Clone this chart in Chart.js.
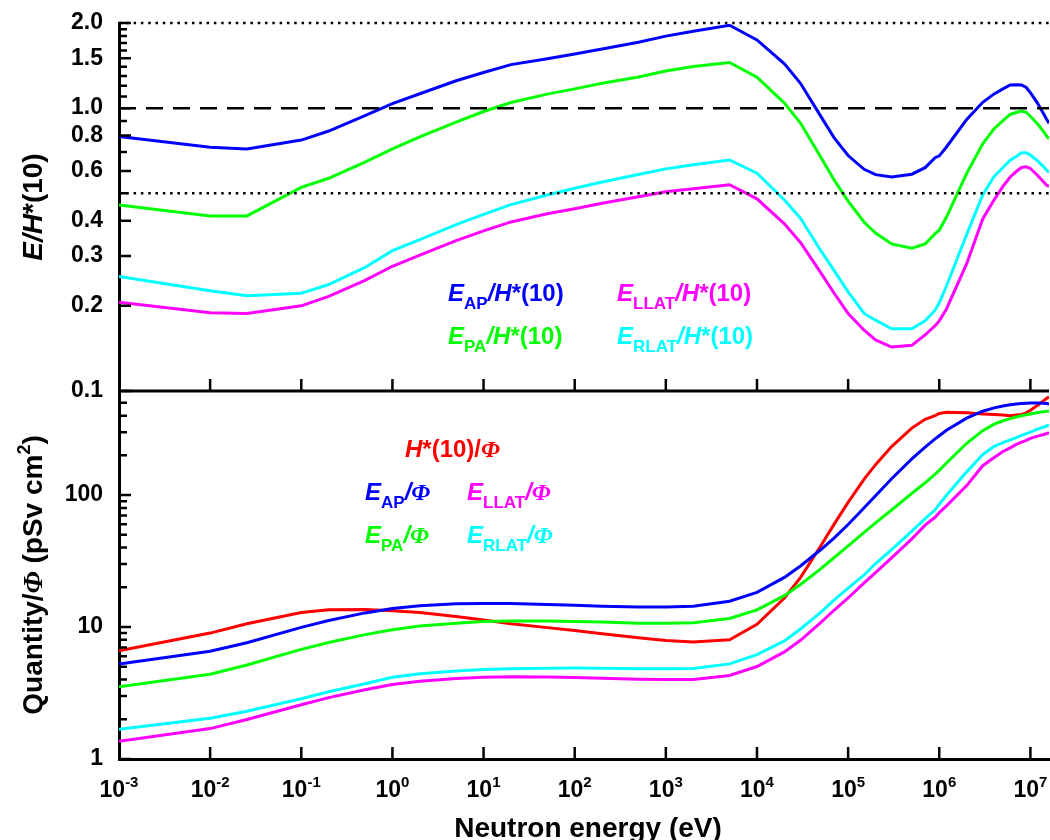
<!DOCTYPE html>
<html lang="en">
<head>
<meta charset="UTF-8">
<title>Neutron conversion coefficients</title>
<script src="https://cdn.jsdelivr.net/npm/chart.js"></script>
<style>
  body { margin: 0; background: #fff; }
  #wrap { position: relative; width: 1050px; height: 840px; overflow: hidden;
          font-family: 'Liberation Sans', Arial, sans-serif; font-weight: bold; color: #000; }
  #chart { position: absolute; left: 0; top: 0; }
  .txt { position: absolute; white-space: nowrap; line-height: 1; }
  .lg { font-size: 24px; }
  .sb { font-size: 17px; position: relative; top: 8px; }
  .sp { font-size: 15px; position: relative; top: -10px; }
  .sq { font-size: 18px; position: relative; top: -12px; }
  .phi { font-family: 'Liberation Serif', 'DejaVu Serif', serif; font-style: italic; }
  .ytitle { font-size: 28px; transform: translate(-50%, -50%) rotate(-90deg); }
  .xt { font-size: 23px; transform: translateX(-50%); }
  i { font-style: italic; }
</style>
</head>
<body>
<div id="wrap">
  <canvas id="chart" width="1050" height="840" style="width:1050px;height:840px"></canvas>

  <div class="txt ytitle" style="left:33px; top:207px;"><i>E/H</i>*(10)</div>
  <div class="txt ytitle" style="left:33px; top:575px;">Quantity/<span class="phi">Φ</span> (pSv cm<span class="sq">2</span>)</div>
  <div class="txt" style="left:588px; top:814px; font-size:28px; transform:translateX(-50%);">Neutron energy (eV)</div>

  <div class="txt lg" style="left:448px; top:281px; color:#0000ff;"><i>E</i><span class="sb">AP</span><i>/H</i>*(10)</div>
  <div class="txt lg" style="left:448px; top:324px; color:#00ff00;"><i>E</i><span class="sb">PA</span><i>/H</i>*(10)</div>
  <div class="txt lg" style="left:617px; top:281px; color:#ff00ff;"><i>E</i><span class="sb">LLAT</span><i>/H</i>*(10)</div>
  <div class="txt lg" style="left:617px; top:324px; color:#00ffff;"><i>E</i><span class="sb">RLAT</span><i>/H</i>*(10)</div>

  <div class="txt lg" style="left:405px; top:437px; color:#ff0000;"><i>H</i>*(10)/<span class="phi">Φ</span></div>
  <div class="txt lg" style="left:365px; top:480px; color:#0000ff;"><i>E</i><span class="sb">AP</span><i>/</i><span class="phi">Φ</span></div>
  <div class="txt lg" style="left:467px; top:480px; color:#ff00ff;"><i>E</i><span class="sb">LLAT</span><i>/</i><span class="phi">Φ</span></div>
  <div class="txt lg" style="left:365px; top:523px; color:#00ff00;"><i>E</i><span class="sb">PA</span><i>/</i><span class="phi">Φ</span></div>
  <div class="txt lg" style="left:467px; top:523px; color:#00ffff;"><i>E</i><span class="sb">RLAT</span><i>/</i><span class="phi">Φ</span></div>
</div>

<script>
  // neutron energies (eV)
  const energies = [1e-3, 1e-2, 2.53e-2, 0.1, 0.2, 0.5, 1, 2, 5, 10, 20, 50, 100, 200, 500,
    1e3, 2e3, 5e3, 1e4, 2e4, 3e4, 5e4, 7e4, 1e5, 1.5e5, 2e5, 3e5, 5e5, 7e5, 9e5,
    1e6, 1.2e6, 2e6, 3e6, 4e6, 5e6, 6e6, 7e6, 8e6, 9e6, 1e7, 1.2e7, 1.4e7, 1.5e7, 1.6e7];

  // top panel: E/H*(10)
  const ratioAP = [0.794, 0.728, 0.717, 0.771, 0.830, 0.941, 1.038, 1.124, 1.25, 1.336, 1.425, 1.495, 1.553, 1.618, 1.711,
    1.797, 1.870, 1.963, 1.743, 1.434, 1.224, 0.937, 0.787, 0.680, 0.608, 0.582, 0.571, 0.584, 0.616, 0.668,
    0.678, 0.729, 0.912, 1.049, 1.123, 1.170, 1.208, 1.210, 1.208, 1.183, 1.134, 1.040, 0.954, 0.915, 0.885];
  const ratioPA = [0.455, 0.416, 0.416, 0.525, 0.565, 0.644, 0.718, 0.791, 0.892, 0.973, 1.047, 1.121, 1.170, 1.225, 1.289,
    1.354, 1.403, 1.450, 1.286, 1.042, 0.886, 0.672, 0.558, 0.469, 0.395, 0.362, 0.331, 0.320, 0.331, 0.360,
    0.370, 0.412, 0.588, 0.748, 0.846, 0.904, 0.950, 0.965, 0.976, 0.967, 0.936, 0.879, 0.825, 0.798, 0.780];
  const ratioLLAT = [0.206, 0.189, 0.188, 0.200, 0.216, 0.246, 0.276, 0.302, 0.340, 0.368, 0.396, 0.423, 0.441, 0.461, 0.486,
    0.506, 0.519, 0.536, 0.478, 0.390, 0.335, 0.262, 0.222, 0.188, 0.164, 0.1515, 0.143, 0.145, 0.158, 0.170,
    0.177, 0.195, 0.282, 0.406, 0.474, 0.529, 0.571, 0.597, 0.617, 0.620, 0.612, 0.578, 0.548, 0.535, 0.529];
  const ratioRLAT = [0.254, 0.226, 0.217, 0.2215, 0.238, 0.2735, 0.3135, 0.343, 0.3875, 0.421, 0.456, 0.493, 0.521, 0.548, 0.583,
    0.610, 0.631, 0.656, 0.589, 0.4735, 0.408, 0.314, 0.267, 0.224, 0.188, 0.178, 0.166, 0.166, 0.177, 0.193,
    0.205, 0.235, 0.358, 0.493, 0.574, 0.617, 0.655, 0.675, 0.695, 0.695, 0.683, 0.651, 0.620, 0.605, 0.593];

  // bottom panel: quantity per fluence (pSv cm2)
  const doseH = [6.60, 9.00, 10.6, 12.9, 13.5, 13.6, 13.3, 12.9, 12.0, 11.3, 10.6, 9.90, 9.40, 8.90, 8.30,
    7.90, 7.70, 8.00, 10.5, 16.6, 23.7, 41.1, 60.0, 88.0, 132, 170, 233, 322, 375, 400,
    416, 425, 420, 412, 408, 405, 400, 405, 409, 420, 440, 480, 520, 540, 555];
  const doseAP = [5.24, 6.55, 7.60, 9.95, 11.2, 12.8, 13.8, 14.5, 15.0, 15.1, 15.1, 14.8, 14.6, 14.4, 14.2,
    14.2, 14.4, 15.7, 18.3, 23.8, 29.0, 38.5, 47.2, 59.8, 80.2, 99.0, 133, 188, 231, 267,
    282, 310, 383, 432, 458, 474, 483, 490, 494, 497, 499, 499, 496, 494, 491];
  const dosePA = [3.52, 4.39, 5.16, 6.77, 7.63, 8.76, 9.55, 10.2, 10.7, 11.0, 11.1, 11.1, 11.0, 10.9, 10.7,
    10.7, 10.8, 11.6, 13.5, 17.3, 21.0, 27.6, 33.5, 41.3, 52.2, 61.5, 77.1, 103, 124, 144,
    154, 175, 247, 308, 345, 366, 380, 391, 399, 406, 412, 422, 429, 431, 433];
  const doseLLAT = [1.36, 1.70, 1.99, 2.58, 2.92, 3.35, 3.67, 3.89, 4.08, 4.16, 4.20, 4.19, 4.15, 4.10, 4.03,
    4.00, 4.00, 4.29, 5.02, 6.48, 7.93, 10.8, 13.4, 16.6, 21.6, 25.8, 33.4, 46.6, 59.2, 67.9,
    73.6, 82.9, 118, 167, 193, 214, 228, 242, 252, 260, 269, 280, 288, 292, 297];
  const doseRLAT = [1.68, 2.04, 2.30, 2.86, 3.23, 3.72, 4.17, 4.43, 4.65, 4.76, 4.83, 4.88, 4.90, 4.88, 4.84,
    4.82, 4.86, 5.26, 6.18, 7.86, 9.67, 12.9, 16.0, 19.7, 24.8, 30.3, 38.6, 53.4, 66.3, 77.3,
    85.2, 99.7, 150, 203, 234, 250, 262, 273, 284, 292, 300, 316, 328, 334, 340];

  // axes
  const xMin = 1e-3, xMax = 1.6e7;
  const xTicks = [1e-3, 1e-2, 1e-1, 1, 10, 100, 1e3, 1e4, 1e5, 1e6, 1e7];
  const xTickExps = ['-3', '-2', '-1', '0', '1', '2', '3', '4', '5', '6', '7'];
  const topTicks = [0.1, 0.2, 0.3, 0.4, 0.5, 0.6, 0.7, 0.8, 0.9, 1.0, 1.1, 1.2, 1.3, 1.4, 1.5, 1.6, 1.7, 1.8, 1.9, 2.0];
  const topLabels = [0.1, 0.2, 0.3, 0.4, 0.6, 0.8, 1.0, 1.5, 2.0];
  const bottomTicks = [1, 2, 3, 4, 5, 6, 7, 8, 9, 10, 20, 30, 40, 50, 60, 70, 80, 90, 100, 200, 300, 400, 500];
  const bottomLabels = [1, 10, 100];
  const dottedLevels = [2.0, 0.5];
  const dashedLevels = [1.0];

  const FONT = "'Liberation Sans', Arial, sans-serif";
  const isIn = (v, list) => list.some(t => Math.abs(t - v) < 1e-9);
  const pts = vals => energies.map((e, i) => ({ x: e, y: vals[i] }));

  function curve(vals, color, axis) {
    return { data: pts(vals), yAxisID: axis, borderColor: color, borderWidth: 3,
             pointRadius: 0, tension: 0, fill: false };
  }
  function refLine(level, dash) {
    return { data: [{ x: xMin, y: level }, { x: xMax, y: level }], yAxisID: 'yTop',
             borderColor: '#000', borderWidth: 2.5, borderDash: dash, pointRadius: 0,
             fill: false, clip: false };
  }

  const datasets = [
    ...dottedLevels.map(l => refLine(l, [2.5, 4.8])),
    ...dashedLevels.map(l => refLine(l, [17, 10])),
    curve(ratioAP, '#0000ff', 'yTop'),
    curve(ratioPA, '#00ff00', 'yTop'),
    curve(ratioLLAT, '#ff00ff', 'yTop'),
    curve(ratioRLAT, '#00ffff', 'yTop'),
    curve(doseRLAT, '#00ffff', 'yBot'),
    curve(doseLLAT, '#ff00ff', 'yBot'),
    curve(dosePA, '#00ff00', 'yBot'),
    curve(doseAP, '#0000ff', 'yBot'),
    curve(doseH, '#ff0000', 'yBot')
  ];

  // inward tick marks and the line between the two panels
  const axisMarks = {
    id: 'axisMarks',
    afterDraw(chart) {
      const { ctx, chartArea: a, scales: { x, yTop, yBot } } = chart;
      const mid = yTop.bottom;
      ctx.save();
      ctx.strokeStyle = '#000';
      ctx.lineWidth = 3;
      ctx.beginPath();
      ctx.moveTo(a.left, mid);
      ctx.lineTo(a.right, mid);
      ctx.stroke();
      ctx.lineWidth = 2.5;
      ctx.beginPath();
      topTicks.forEach(v => {
        const y = yTop.getPixelForValue(v);
        ctx.moveTo(a.left, y);
        ctx.lineTo(a.left + (isIn(v, topLabels) ? 12 : 8), y);
      });
      bottomTicks.forEach(v => {
        const y = yBot.getPixelForValue(v);
        ctx.moveTo(a.left, y);
        ctx.lineTo(a.left + (isIn(v, bottomLabels) ? 12 : 8), y);
      });
      xTicks.forEach(v => {
        if (v === xMin) return;
        const px = x.getPixelForValue(v);
        [mid, a.bottom].forEach(y0 => {
          ctx.moveTo(px, y0);
          ctx.lineTo(px, y0 - 12);
        });
      });
      ctx.stroke();
      ctx.restore();
    }
  };

  const yCommon = {
    type: 'logarithmic',
    position: 'left',
    stack: 'panels',
    stackWeight: 1,
    grid: { display: false, drawTicks: false },
    border: { display: true, width: 3, color: '#000' },
    // fixed axis width; no extra vertical padding for the end labels
    afterFit: s => { s.width = 54; s.paddingTop = 0; s.paddingBottom = 0; }
  };

  const chart = new Chart(document.getElementById('chart'), {
    type: 'line',
    data: { datasets },
    options: {
      responsive: false,
      animation: false,
      devicePixelRatio: 1,
      layout: { padding: { left: 65, top: 23, right: 1, bottom: 0 } },
      plugins: { legend: { display: false }, tooltip: { enabled: false } },
      scales: {
        x: {
          type: 'logarithmic',
          min: xMin,
          max: xMax,
          afterBuildTicks: s => { s.ticks = xTicks.map(v => ({ value: v })); },
          ticks: { display: false },
          grid: { display: false, drawTicks: false },
          border: { display: true, width: 3, color: '#000' },
          afterFit: s => { s.height = 81; }
        },
        // stacked axes are placed bottom-first, so the lower panel comes first
        yBot: {
          ...yCommon,
          min: 1,
          max: 615,
          afterBuildTicks: s => { s.ticks = bottomTicks.map(v => ({ value: v })); },
          ticks: {
            autoSkip: false, padding: 16, color: '#000',
            font: { family: FONT, size: 23, weight: 'bold' },
            callback: v => isIn(v, bottomLabels) ? String(v) : ''
          }
        },
        yTop: {
          ...yCommon,
          min: 0.1,
          max: 2.0,
          afterBuildTicks: s => { s.ticks = topTicks.map(v => ({ value: v })); },
          ticks: {
            autoSkip: false, padding: 16, color: '#000',
            font: { family: FONT, size: 23, weight: 'bold' },
            callback: v => isIn(v, topLabels) ? v.toFixed(1) : ''
          }
        }
      }
    },
    plugins: [axisMarks]
  });

  // x tick labels as 10 with a raised exponent
  const wrap = document.getElementById('wrap');
  xTicks.forEach((v, i) => {
    const d = document.createElement('div');
    d.className = 'txt xt';
    d.style.left = chart.scales.x.getPixelForValue(v) + 'px';
    d.style.top = '778px';
    d.innerHTML = '10<span class="sp">' + xTickExps[i] + '</span>';
    wrap.appendChild(d);
  });
</script>
</body>
</html>
